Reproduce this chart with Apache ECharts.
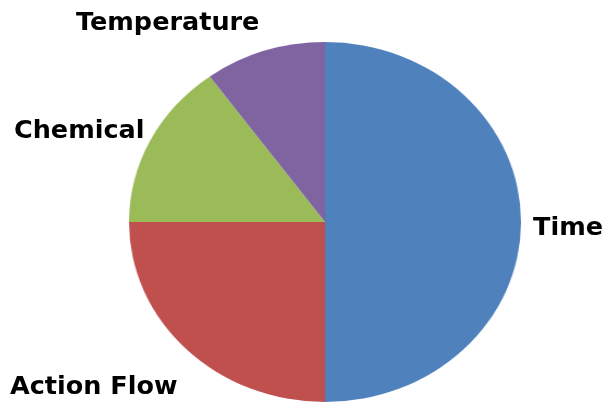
<!DOCTYPE html>
<html>
<head>
<meta charset="utf-8">
<script src="https://cdn.jsdelivr.net/npm/echarts@6/dist/echarts.min.js"></script>
<style>
  html, body { margin: 0; padding: 0; background: #fff; }
  #wrap { position: relative; width: 603px; height: 403px; overflow: hidden; }
  #pie, #labels { position: absolute; left: 0; top: 0; width: 603px; height: 403px; }
  /* the pie is slightly wider than tall */
  #pie { transform: scaleX(1.089); transform-origin: 325px 0; }
</style>
</head>
<body>
<div id="wrap">
  <div id="pie"></div>
  <div id="labels"></div>
</div>
<script>
const categories = ['Time', 'Action Flow', 'Chemical', 'Temperature'];
const values = [50, 25, 15, 10];
const colors = ['#4F81BD', '#C0504D', '#9BBB59', '#8064A2'];

const data = categories.map((name, i) => ({ name: name, value: values[i], itemStyle: { color: colors[i] } }));

const pie = echarts.init(document.getElementById('pie'), null, { renderer: 'canvas' });
pie.setOption({
  animation: false,
  series: [{
    type: 'pie',
    center: [325, 222],
    radius: 180,
    startAngle: 90,
    clockwise: true,
    label: { show: false },
    labelLine: { show: false },
    itemStyle: { borderWidth: 0 },
    emphasis: { disabled: true },
    data: data
  }]
});

// Category labels placed beside their slices
const labelSpots = {
  'Time': [533, 228],
  'Action Flow': [10, 387],
  'Chemical': [14, 131],
  'Temperature': [76, 23]
};
const labels = echarts.init(document.getElementById('labels'), null, { renderer: 'canvas' });
labels.setOption({
  animation: false,
  graphic: categories.map(name => ({
    type: 'text',
    x: labelSpots[name][0],
    y: labelSpots[name][1],
    style: {
      text: name,
      fill: '#000',
      font: 'bold 25.5px "DejaVu Sans", sans-serif',
      textAlign: 'left',
      textVerticalAlign: 'middle'
    }
  }))
});
</script>
</body>
</html>
